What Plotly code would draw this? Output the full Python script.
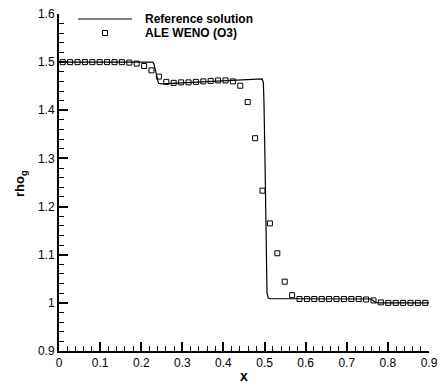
import plotly.graph_objects as go

# Reference solution (line)
ref_x = [0.0, 0.228, 0.231, 0.235, 0.239, 0.242, 0.25, 0.3, 0.4, 0.489, 0.494, 0.497,
         0.4985, 0.501, 0.503, 0.5045, 0.506, 0.509, 0.513, 0.6, 0.7, 0.758, 0.764,
         0.77, 0.776, 0.9]
ref_y = [1.5, 1.5, 1.496, 1.48, 1.463, 1.456, 1.455, 1.457, 1.461, 1.466, 1.465, 1.458,
         1.42, 1.3, 1.2, 1.05, 1.02, 1.01, 1.0085, 1.0085, 1.0085, 1.008, 1.005,
         1.001, 1.0, 1.0]

# ALE WENO (O3) cell values
ale_x = [0.009 + 0.018 * i for i in range(50)]
ale_y = [1.5, 1.5, 1.5, 1.5, 1.5, 1.5, 1.5, 1.5, 1.5, 1.499,
         1.497, 1.492, 1.483, 1.470, 1.459, 1.457, 1.458, 1.458, 1.459, 1.460,
         1.461, 1.462, 1.462, 1.460, 1.451, 1.417, 1.342, 1.233, 1.165, 1.103,
         1.044, 1.016, 1.008, 1.008, 1.008, 1.008, 1.008, 1.008, 1.008, 1.008,
         1.008, 1.007, 1.005, 1.001, 1.0, 1.0, 1.0, 1.0, 1.0, 1.0]

x_ticks = [0, 0.1, 0.2, 0.3, 0.4, 0.5, 0.6, 0.7, 0.8, 0.9]
x_labels = ["0", "0.1", "0.2", "0.3", "0.4", "0.5", "0.6", "0.7", "0.8", "0.9"]
y_ticks = [0.9, 1.0, 1.1, 1.2, 1.3, 1.4, 1.5, 1.6]
y_labels = ["0.9", "1", "1.1", "1.2", "1.3", "1.4", "1.5", "1.6"]

FONT = "Liberation Sans, Arial, Helvetica, sans-serif"

fig = go.Figure()
fig.add_trace(go.Scatter(x=ref_x, y=ref_y, mode="lines",
                         line=dict(color="black", width=1.2),
                         name="Reference solution", showlegend=False))
fig.add_trace(go.Scatter(x=ale_x, y=ale_y, mode="markers",
                         marker=dict(symbol="square-open", size=5, color="black",
                                     line=dict(width=1, color="black")),
                         name="ALE WENO (O3)", showlegend=False))

W, H = 440, 387
ml, mr, mt, mb = 59, 11, 14, 36
pw, ph = W - ml - mr, H - mt - mb

def px(xp):
    return (xp - ml) / pw

def py(yp):
    return (H - mb - yp) / ph

axis_common = dict(showline=True, linecolor="black", linewidth=2, mirror=False,
                   showgrid=False, zeroline=False, ticks="inside", ticklen=9,
                   tickwidth=2, tickcolor="black", automargin=False,
                   tickfont=dict(family=FONT, size=12, color="black"))

fig.update_layout(
    width=W, height=H,
    margin=dict(l=ml, r=mr, t=mt, b=mb),
    paper_bgcolor="white", plot_bgcolor="white",
    font=dict(family=FONT, color="black"),
    xaxis=dict(range=[0, 0.9], tickvals=x_ticks, ticktext=x_labels,
               minor=dict(ticks="inside", ticklen=5, tickwidth=1, tickcolor="black", dtick=0.02),
               **axis_common),
    yaxis=dict(range=[0.9, 1.6], tickvals=y_ticks, ticktext=y_labels,
               minor=dict(ticks="inside", ticklen=5, tickwidth=1, tickcolor="black", dtick=0.02),
               **axis_common),
    showlegend=False,
)

# Axis titles
fig.add_annotation(xref="paper", yref="paper", x=px(244), y=py(376),
                   text="<b>x</b>", showarrow=False,
                   xanchor="center", yanchor="middle", font=dict(family=FONT, size=14))
fig.add_annotation(xref="paper", yref="paper", x=px(20), y=py(184),
                   text="<b>rho<sub>g</sub></b>", showarrow=False, textangle=-90,
                   xanchor="center", yanchor="middle", font=dict(family=FONT, size=13))

# Manual legend
fig.add_shape(type="line", xref="paper", yref="paper",
              x0=px(78), x1=px(132), y0=py(19), y1=py(19),
              line=dict(color="black", width=1.2))
fig.add_shape(type="rect", xref="paper", yref="paper",
              x0=px(102.5), x1=px(107.5), y0=py(35.5), y1=py(30.5),
              line=dict(color="black", width=1))
fig.add_annotation(xref="paper", yref="paper", x=px(143), y=py(19),
                   text="<b>Reference solution</b>", showarrow=False,
                   xanchor="left", yanchor="middle", font=dict(family=FONT, size=12))
fig.add_annotation(xref="paper", yref="paper", x=px(143), y=py(33),
                   text="<b>ALE WENO (O3)</b>", showarrow=False,
                   xanchor="left", yanchor="middle", font=dict(family=FONT, size=12))

fig.write_html("out.html")
